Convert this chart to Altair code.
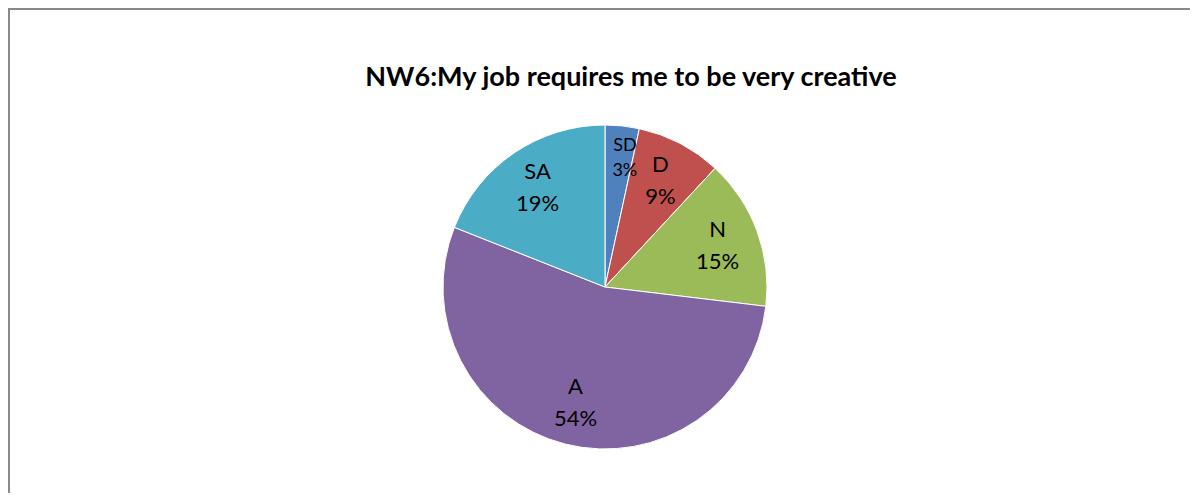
import altair as alt
import pandas as pd

categories = ["SD", "D", "N", "A", "SA"]
values = [3.4, 8.5, 15.0, 54.1, 19.0]
pct_labels = ["3%", "9%", "15%", "54%", "19%"]
colors = ["#4F81BD", "#C0504D", "#9BBB59", "#8064A2", "#4BACC6"]
title_text = "NW6:My job requires me to be very creative"

df = pd.DataFrame({
    "cat": categories,
    "value": values,
    "pct": pct_labels,
    "idx": list(range(len(categories))),
})
df["label"] = df["cat"] + "\n" + df["pct"]

W, H = 1182, 485
CX, CY, R = 597, 279, 162

base = alt.Chart(df).encode(
    theta=alt.Theta("value:Q", stack=True),
    order=alt.Order("idx:Q"),
    x=alt.value(CX),
    y=alt.value(CY),
)

pie = base.mark_arc(outerRadius=R, stroke="white", strokeWidth=1).encode(
    color=alt.Color("cat:N", scale=alt.Scale(domain=categories, range=colors), legend=None,
                    sort=categories),
)

big = base.mark_text(
    radius=120, font="Lato", fontSize=22, color="black", lineBreak="\n", lineHeight=32,
    align="center", baseline="middle", dy=-16,
).encode(text=alt.condition("datum.cat != 'SD'", "label:N", alt.value("")))

small = base.mark_text(
    radius=130, font="Lato", fontSize=18, color="black", lineBreak="\n", lineHeight=25,
    align="center", baseline="middle", dx=6, dy=-12,
).encode(text=alt.condition("datum.cat == 'SD'", "label:N", alt.value("")))

border_top = alt.Chart(df).mark_rule(color="#898989", strokeWidth=2).encode(
    x=alt.value(0), x2=alt.value(W), y=alt.value(1)
)
border_left = alt.Chart(df).mark_rule(color="#898989", strokeWidth=2).encode(
    x=alt.value(1), y=alt.value(0), y2=alt.value(H)
)

chart = alt.layer(border_top, border_left, pie, big, small).properties(
    width=W, height=H, padding=0,
    autosize=alt.AutoSizeParams(type="none"),
    title=alt.TitleParams(
        title_text, font="Lato", fontSize=27, fontWeight="bold", color="black",
        anchor="middle", frame="group", baseline="alphabetic", offset=-106, dx=32,
    ),
).configure_view(stroke=None).configure(background="white")

chart.save("out.html", embed_options={"renderer": "svg", "actions": False})
